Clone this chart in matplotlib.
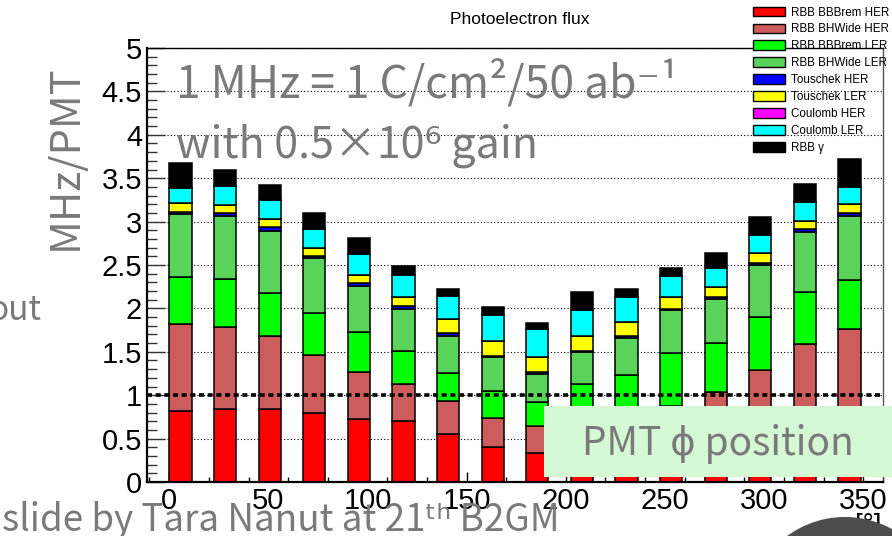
import numpy as np
import matplotlib
matplotlib.use('Agg')
import matplotlib.pyplot as plt
from matplotlib.patches import Patch, Rectangle, Ellipse
from matplotlib.ticker import MultipleLocator

# ---------------------------
# Data
# ---------------------------
# lower edge of each 22.5 deg phi bin
phi = [0, 22.5, 45, 67.5, 90, 112.5, 135, 157.5, 180, 202.5, 225, 247.5, 270, 292.5, 315, 337.5]

bbbrem_her = [0.818, 0.837, 0.837, 0.790, 0.722, 0.699, 0.553, 0.407, 0.330, 0.380, 0.440, 0.500, 0.570, 0.660, 0.750, 0.800]
bhwide_her = [1.002, 0.953, 0.848, 0.673, 0.542, 0.430, 0.380, 0.326, 0.315, 0.340, 0.350, 0.380, 0.463, 0.627, 0.836, 0.959]
bbbrem_ler = [0.538, 0.545, 0.495, 0.480, 0.460, 0.376, 0.327, 0.319, 0.280, 0.405, 0.439, 0.602, 0.572, 0.610, 0.607, 0.568]
bhwide_ler = [0.730, 0.733, 0.715, 0.634, 0.534, 0.485, 0.425, 0.384, 0.315, 0.369, 0.434, 0.496, 0.503, 0.599, 0.687, 0.738]
touschek_her = [0.026, 0.032, 0.045, 0.030, 0.038, 0.038, 0.028, 0.020, 0.024, 0.020, 0.020, 0.020, 0.027, 0.023, 0.031, 0.030]
touschek_ler = [0.106, 0.090, 0.090, 0.093, 0.092, 0.107, 0.161, 0.165, 0.172, 0.173, 0.166, 0.130, 0.115, 0.116, 0.099, 0.108]
coulomb_her = [0.0] * 16
coulomb_ler = [0.170, 0.220, 0.220, 0.218, 0.242, 0.253, 0.273, 0.308, 0.323, 0.292, 0.283, 0.242, 0.212, 0.214, 0.219, 0.199]
rbb_gamma = [0.280, 0.180, 0.175, 0.182, 0.177, 0.102, 0.073, 0.092, 0.076, 0.206, 0.097, 0.092, 0.180, 0.201, 0.204, 0.318]

labels = ['RBB BBBrem HER', 'RBB BHWide HER', 'RBB BBBrem LER', 'RBB BHWide LER',
          'Touschek HER', 'Touschek LER', 'Coulomb HER', 'Coulomb LER', 'RBB \u03b3']
series = [bbbrem_her, bhwide_her, bbbrem_ler, bhwide_ler,
          touschek_her, touschek_ler, coulomb_her, coulomb_ler, rbb_gamma]
colors = ['#ff0000', '#cd5c5c', '#00ff00', '#5ad35a',
          '#0000ff', '#ffff00', '#ff00ff', '#00ffff', '#000000']

# ---------------------------
# Figure
# ---------------------------
W, H = 892, 536
fig = plt.figure(figsize=(W / 100, H / 100), dpi=100)
fig.patch.set_facecolor('white')

ax = fig.add_axes([147 / W, 1 - 482 / H, (883 - 147) / W, (482 - 48) / H])
ax.set_axisbelow(True)

bottom = np.zeros(len(phi))
for vals, col, lab in zip(series, colors, labels):
    vals = np.array(vals)
    ax.bar(phi, vals, width=11.25, align='edge', bottom=bottom,
           color=col, edgecolor='black', linewidth=1.1, label=lab, zorder=2)
    bottom += vals

ax.set_xlim(-11.25, 360)
ax.set_ylim(0, 5)

# dashed 1 MHz reference line
ax.axhline(1.0, color='black', lw=2.6, linestyle=(0, (1.4, 1.0)), zorder=5)

# axis styling (ROOT look)
ax.yaxis.set_minor_locator(MultipleLocator(0.1))
ax.xaxis.set_major_locator(MultipleLocator(50))
ax.xaxis.set_minor_locator(MultipleLocator(10))
ax.set_yticks([0, 0.5, 1, 1.5, 2, 2.5, 3, 3.5, 4, 4.5, 5])
ax.set_yticklabels(['0', '0.5', '1', '1.5', '2', '2.5', '3', '3.5', '4', '4.5', '5'])
ax.tick_params(axis='y', which='major', direction='in', length=13, width=1.0, pad=3.5,
               labelsize=21, color='#333333')
ax.tick_params(axis='y', which='minor', direction='in', length=7, width=1.0, color='#333333')
ax.tick_params(axis='x', which='major', direction='in', length=7, width=1.0, pad=3.5, labelsize=21)
ax.tick_params(axis='x', which='minor', direction='in', length=3.6, width=1.0)
for t in ax.get_xticklabels() + ax.get_yticklabels():
    t.set_fontfamily('Liberation Sans')

ax.grid(axis='y', which='major', color='black', lw=0.8, linestyle=(0, (1, 2)))
for s in ['left', 'bottom']:
    ax.spines[s].set_linewidth(1.6)
ax.spines['top'].set_linewidth(1.0)
ax.spines['right'].set_linewidth(1.0)
ax.spines['right'].set_color('#555555')

# ---------------------------
# Legend (top right, ROOT style)
# ---------------------------
handles = [Patch(facecolor=c, edgecolor='black', linewidth=1.0) for c in colors]
fig.legend(handles, labels, loc='upper left', bbox_to_anchor=(749 / W, 1 - 3 / H),
           frameon=False, prop={'family': 'Liberation Sans', 'size': 8.4},
           handlelength=2.75, handleheight=0.9, labelspacing=0.42,
           handletextpad=0.55, borderaxespad=0, borderpad=0.3)

fig.text(520 / W, 1 - 20 / H, 'Photoelectron flux', ha='center', va='center',
         fontsize=12.5, family='Liberation Sans')

# ---------------------------
# Slide annotations
# ---------------------------
grey = '#7a7a7a'
slide_font = ['Noto Sans CJK JP', 'DejaVu Sans']

fig.text(65 / W, 1 - 157 / H, 'MHz/PMT', rotation=90, ha='center', va='center',
         fontsize=30, color=grey, family=slide_font)
fig.text(176 / W, 1 - 98 / H, '1 MHz = 1 C/cm\u00b2/50 ab\u207b\u00b9', ha='left', va='baseline',
         fontsize=32, color=grey, family=slide_font)
fig.text(176 / W, 1 - 157 / H, 'with 0.5\u00d710\u2076 gain', ha='left', va='baseline',
         fontsize=31, color=grey, family=slide_font)
fig.text(41 / W, 1 - 320 / H, 'out', ha='right', va='baseline',
         fontsize=24, color=grey, family=slide_font)
fig.text(2 / W, 1 - 531 / H, 'slide by Tara Nanut at 21\u1d57\u02b0 B2GM', ha='left', va='baseline',
         fontsize=26.5, color=grey, family=slide_font)

# PMT phi position box
fig.patches.append(Rectangle((544 / W, 1 - 477 / H), (W - 544) / W, 71 / H,
                             transform=fig.transFigure, facecolor='#d4f9d4',
                             edgecolor='none', zorder=10))
fig.text(718 / W, 1 - 455 / H, 'PMT \u03d5 position', ha='center', va='baseline',
         fontsize=28, color=grey, family=slide_font, zorder=11)

# x title and the dark logo circle covering it
fig.text(868 / W, 1 - 513 / H, '[\u00b0]', ha='center', va='top', fontsize=20,
         family='Liberation Sans', zorder=11)
fig.patches.append(Ellipse((845 / W, 1 - 615 / H), 196 / W, 196 / H,
                           transform=fig.transFigure, facecolor='#4d4d4d',
                           edgecolor='none', zorder=12))

fig.savefig('out.png', dpi=100)
